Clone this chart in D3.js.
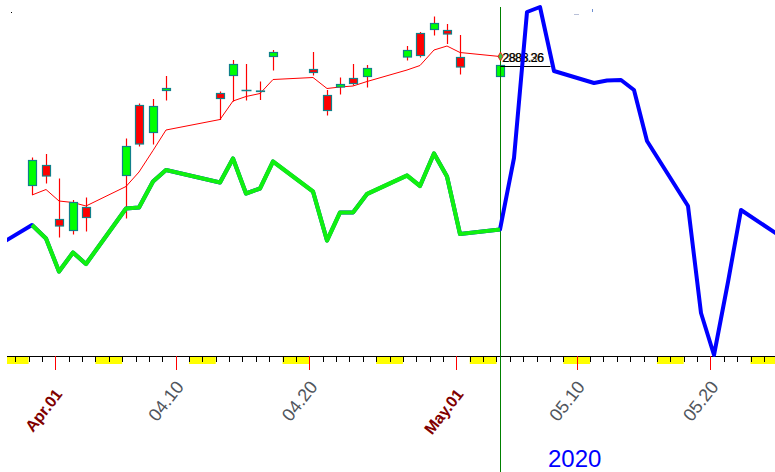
<!DOCTYPE html>
<html><head><meta charset="utf-8">
<script src="https://cdn.jsdelivr.net/npm/d3@7"></script>
<style>html,body{margin:0;padding:0;background:#fff;overflow:hidden}svg{display:block}</style>
</head><body><svg id="c" width="775" height="472"></svg>
<script>
// ---- data ----
const dates = ["2020-03-30","2020-03-31","2020-04-01","2020-04-02","2020-04-03","2020-04-06","2020-04-07","2020-04-08","2020-04-09","2020-04-13","2020-04-14","2020-04-15","2020-04-16","2020-04-17","2020-04-20","2020-04-21","2020-04-22","2020-04-23","2020-04-24","2020-04-27","2020-04-28","2020-04-29","2020-04-30","2020-05-01","2020-05-04"];
const openV  = [2629,2669,2561,2539,2585,2649,2789,2735,2819,2813,2849,2819,2818,2887,2861,2809,2826,2843,2847,2886,2933,2941,2939,2885,2847];
const highV  = [2685,2692,2643,2600,2605,2723,2793,2802,2848,2817,2880,2872,2837,2900,2896,2820,2845,2872,2870,2908,2936,2967,2952,2930,2869];
const lowV   = [2610,2633,2525,2531,2537,2563,2707,2711,2799,2760,2797,2799,2800,2859,2849,2769,2811,2829,2825,2879,2885,2929,2912,2851,2847];
const closeV = [2679,2648,2548,2595,2565,2707,2712,2787,2823,2803,2871,2819,2817,2895,2855,2779,2831,2833,2863,2899,2889,2953,2932,2866,2869];
const maV    = [2610,2621,2598,2595,2588,2627,2656,2699,2740,2761,2798,2807,2813,2841,2845,2823,2826,2828,2837,2860,2869,2900,2908,2895,2887];
const histV  = [2550,2523,2457,2495,2472,2583,2585,2637,2660,2635,2683,2613,2623,2677,2617,2519,2575,2575,2612,2649,2628,2693,2647,2532,2541];
const prevDate = "2020-03-27", prevValue = 2502;
const fDates  = ["2020-05-05","2020-05-06","2020-05-07","2020-05-08","2020-05-11","2020-05-12","2020-05-13","2020-05-14","2020-05-15","2020-05-18","2020-05-19","2020-05-20","2020-05-21","2020-05-22","2020-05-26"];
const fValues = [2684,2976,2986,2858,2834,2839,2840,2820,2718,2588,2374,2290,2436,2580,2508];
const tickDates  = ["2020-04-01","2020-04-10","2020-04-20","2020-05-01","2020-05-10","2020-05-20"];
const tickLabels = ["Apr.01","04.10","04.20","May.01","05.10","05.20"];
const tickBold   = [true,false,false,true,false,false];
const priceLabels = ["2885.36","2883.26"];
const yearLabel = "2020";

// ---- setup ----
const parse = d3.utcParse("%Y-%m-%d");
const W = 775, H = 472, left = 7, axisY = 356;
const svg = d3.select("#c");
const x = d3.scaleUtc().domain([parse("2020-04-01"), parse("2020-05-20")]).range([55.3, 710.4]);
const y = d3.scaleLinear().domain([2000, 3000]).range([500, 0]);
const cx = d => Math.round(x(d) + 3.9);
const font = "'Liberation Sans', Arial, sans-serif";

svg.append("defs").append("clipPath").attr("id","clip")
  .append("rect").attr("x",left).attr("y",0).attr("width",W-left).attr("height",H);

// ---- axis: weekends, line, ticks ----
const allDays = d3.utcDay.range(parse("2020-03-25"), parse("2020-05-28"));
const sats = d3.utcSaturday.range(parse("2020-03-25"), parse("2020-05-28"));
const ax = svg.append("g").attr("clip-path","url(#clip)");
ax.selectAll("rect.we").data(sats).join("rect")
  .attr("x", d => x(d)).attr("width", d => x(d3.utcDay.offset(d,2)) - x(d))
  .attr("y", axisY).attr("height", 8).attr("fill", "#ffff00");
ax.append("line").attr("x1",left).attr("x2",W).attr("y1",axisY+0.5).attr("y2",axisY+0.5)
  .attr("stroke","#000").attr("stroke-width",1);
const majors = tickDates.map(parse);
const isMajor = d => majors.some(m => +m === +d);
ax.selectAll("line.mt").data(allDays.filter(d => !isMajor(d))).join("line")
  .attr("x1", d => Math.round(x(d))+0.5).attr("x2", d => Math.round(x(d))+0.5)
  .attr("y1", axisY).attr("y2", axisY+6).attr("stroke","#000").attr("stroke-width",1);
ax.selectAll("line.Mt").data(majors).join("line")
  .attr("x1", d => Math.round(x(d))+0.5).attr("x2", d => Math.round(x(d))+0.5)
  .attr("y1", axisY).attr("y2", axisY+14).attr("stroke","#ff0000").attr("stroke-width",1);

// tick labels
svg.selectAll("text.tl").data(majors).join("text")
  .attr("transform", (d,i) => tickBold[i]
      ? `translate(${x(d)+7.8},394.5) rotate(-52)`
      : `translate(${x(d)+9},387) rotate(-52)`)
  .attr("text-anchor","end")
  .attr("font-family", font)
  .attr("font-size", (d,i) => tickBold[i] ? "16px" : "18px")
  .attr("font-weight", (d,i) => tickBold[i] ? "bold" : "normal")
  .attr("fill", (d,i) => tickBold[i] ? "#800000" : "#50555c")
  .text((d,i) => tickLabels[i]);

svg.append("text").attr("x",548).attr("y",467).attr("font-family",font).attr("font-size","24px")
  .attr("fill","#0000ff").text(yearLabel);

// ---- moving average ----
const candles = dates.map((d,i) => ({date: parse(d), o: openV[i], h: highV[i], l: lowV[i], c: closeV[i], ma: maV[i], v: histV[i]}));
svg.append("path").datum(candles)
  .attr("d", d3.line().x(d => cx(d.date)).y(d => y(d.ma)))
  .attr("fill","none").attr("stroke","#ff0000").attr("stroke-width",1);

// ---- candles ----
const cg = svg.append("g");
cg.selectAll("line.wick").data(candles).join("line")
  .attr("x1", d => cx(d.date)+0.5).attr("x2", d => cx(d.date)+0.5)
  .attr("y1", d => y(d.h)).attr("y2", d => y(d.l))
  .attr("stroke","#ff0000").attr("stroke-width",1.2);
cg.selectAll("rect.body").data(candles.filter(d => d.o !== d.c)).join("rect")
  .attr("x", d => cx(d.date)-4+0.5).attr("width", 8)
  .attr("y", d => y(Math.max(d.o,d.c))).attr("height", d => Math.max(Math.abs(y(d.o)-y(d.c)), 0.5))
  .attr("fill", d => d.c > d.o ? "#00ff00" : "#ff0000")
  .attr("stroke","#10808a").attr("stroke-width",1.2);
cg.selectAll("line.doji").data(candles.filter(d => d.o === d.c)).join("line")
  .attr("x1", d => cx(d.date)-4.5).attr("x2", d => cx(d.date)+5.5)
  .attr("y1", d => y(d.o)).attr("y2", d => y(d.o))
  .attr("stroke","#10808a").attr("stroke-width",1.5);

// ---- current bar marker ----
const last = candles[candles.length-1];
const lx = cx(last.date)+0.5;
svg.append("line").attr("x1",lx).attr("x2",lx).attr("y1",7).attr("y2",H)
  .attr("stroke","#008000").attr("stroke-width",1);
svg.append("line").attr("x1",lx).attr("x2",lx+50).attr("y1",Math.round(y(last.c))+0.5).attr("y2",Math.round(y(last.c))+0.5)
  .attr("stroke","#000").attr("stroke-width",1);
svg.selectAll("text.pl").data(priceLabels).join("text")
  .attr("x",(d,i) => 502 + i*0.6).attr("y", y(last.ma)+5)
  .attr("font-family",font).attr("font-size","12.5px").attr("letter-spacing","-0.6px")
  .attr("fill",(d,i) => i ? "#000" : "#5a4a30")
  .text(d => d);

// ---- indicator / forecast line ----
const lineGen = d3.line().x(d => cx(d.date)).y(d => y(d.v)).curve(d3.curveLinear);
const fullSeries = [{date: parse(prevDate), v: prevValue}]
  .concat(candles.map(d => ({date: d.date, v: d.v})))
  .concat(fDates.map((d,i) => ({date: parse(d), v: fValues[i]})));
const lg = svg.append("g").attr("clip-path","url(#clip)");
lg.append("path").datum(fullSeries).attr("d", lineGen)
  .attr("fill","none").attr("stroke","#0000ff").attr("stroke-width",4).attr("stroke-linejoin","round");
lg.append("path").datum(candles).attr("d", lineGen)
  .attr("fill","none").attr("stroke","#10f010").attr("stroke-width",4.2).attr("stroke-linejoin","round");

// marker diamond at MA end
svg.append("path").attr("d", d3.symbol(d3.symbolDiamond, 22)())
  .attr("transform", `translate(${lx},${y(last.ma)})`)
  .attr("fill","#40c040").attr("stroke","#ff0000").attr("stroke-width",0.8);

// small specks seen at top
svg.append("rect").attr("x",11).attr("y",12).attr("width",1).attr("height",1).attr("fill","#000");
svg.append("rect").attr("x",574).attr("y",14).attr("width",5).attr("height",1).attr("fill","#b8c0d8");
svg.append("rect").attr("x",592).attr("y",9).attr("width",1).attr("height",3).attr("fill","#6f8fd0");
</script>
</body></html>
